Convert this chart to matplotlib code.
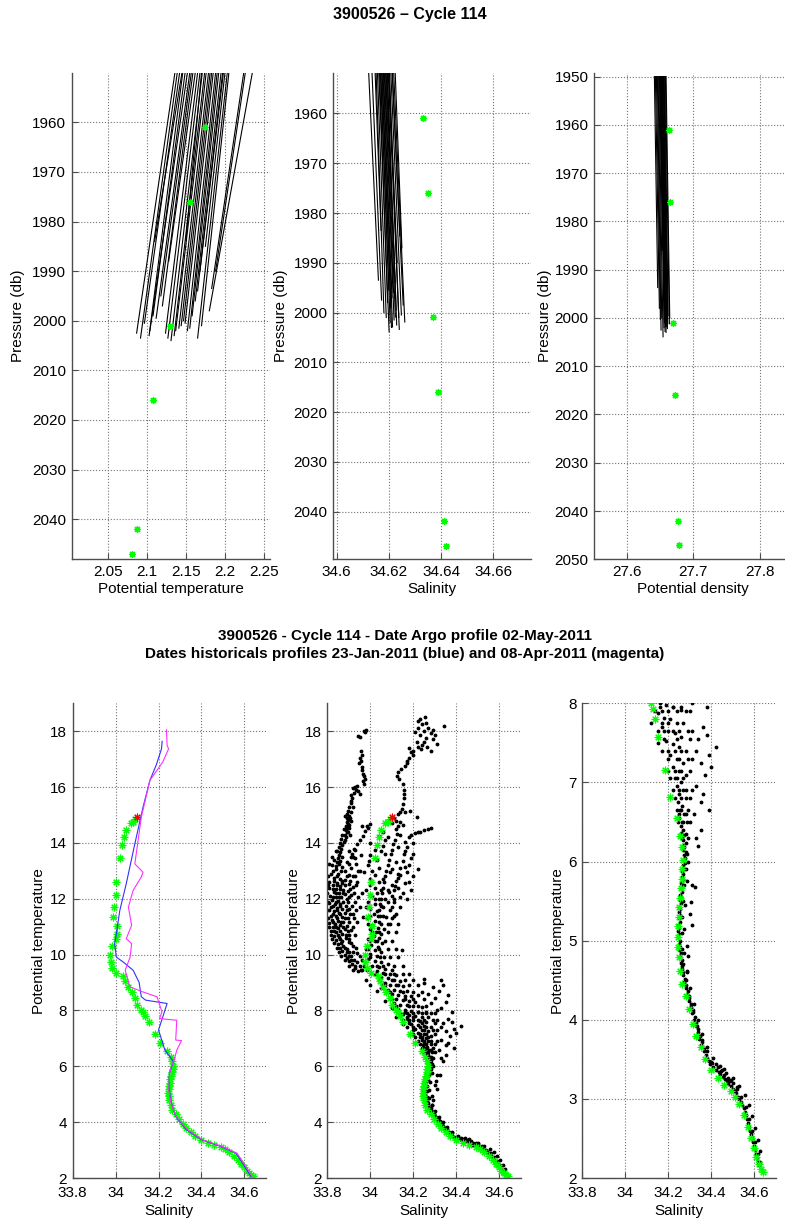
import numpy as np
import matplotlib
matplotlib.use('Agg')
import matplotlib.pyplot as plt
from matplotlib.ticker import FormatStrFormatter

plt.rcParams['font.family'] = ['Liberation Sans', 'DejaVu Sans']

# --- Argo profile, deep levels (top panels) --- #
argo_p     = [1961, 1976, 2001, 2016, 2042, 2047]
argo_theta = [2.175, 2.155, 2.13, 2.108, 2.088, 2.081]
argo_sal   = [34.633, 34.635, 34.637, 34.6387, 34.641, 34.642]
argo_sig   = [27.663, 27.6655, 27.669, 27.672, 27.6765, 27.678]

# --- historical profiles near the bottom: (value at 1950 db, value at end, end pressure) --- #
hist_p0 = 1950.0
hist_theta = [(2.136, 2.087, 2002.5), (2.139, 2.092, 2003.5), (2.142, 2.097, 2000.5),
              (2.146, 2.103, 2003.0), (2.149, 2.108, 1999.0), (2.152, 2.104, 2002.0),
              (2.155, 2.112, 1999.5), (2.157, 2.118, 1995.0), (2.159, 2.120, 1997.0),
              (2.162, 2.128, 1988.0), (2.165, 2.124, 2002.5), (2.168, 2.127, 2003.5),
              (2.171, 2.131, 2004.0), (2.174, 2.135, 2003.0), (2.176, 2.137, 2002.0),
              (2.179, 2.141, 2001.5), (2.181, 2.144, 2001.0), (2.183, 2.147, 2000.0),
              (2.185, 2.149, 2000.5), (2.188, 2.152, 2002.0), (2.190, 2.155, 2001.5),
              (2.192, 2.158, 1999.0), (2.195, 2.162, 1996.0), (2.197, 2.165, 1994.0),
              (2.198, 2.168, 1990.0), (2.200, 2.175, 1985.0), (2.203, 2.165, 2003.5),
              (2.205, 2.170, 2001.0), (2.224, 2.183, 1993.5), (2.226, 2.188, 1990.0),
              (2.235, 2.180, 1998.0), (2.145, 2.110, 1984.0), (2.170, 2.150, 1983.8)]
hist_sal = [(34.6121, 34.6160, 1993.5), (34.6146, 34.6170, 1983.5), (34.6150, 34.6181, 2000.0),
            (34.6155, 34.6190, 2001.0), (34.6160, 34.6201, 2003.9), (34.6163, 34.6195, 1998.0),
            (34.6166, 34.6205, 2002.0), (34.6168, 34.6200, 1995.5), (34.6171, 34.6210, 2003.0),
            (34.6173, 34.6208, 1999.0), (34.6176, 34.6214, 2002.9), (34.6178, 34.6212, 1997.0),
            (34.6181, 34.6220, 2001.5), (34.6183, 34.6218, 1996.0), (34.6186, 34.6225, 2000.9),
            (34.6188, 34.6224, 1994.0), (34.6191, 34.6230, 2002.5), (34.6193, 34.6228, 1999.5),
            (34.6196, 34.6240, 2003.4), (34.6198, 34.6232, 1990.0), (34.6201, 34.6238, 2001.0),
            (34.6212, 34.6242, 1984.6), (34.6206, 34.6248, 2000.5), (34.6211, 34.6255, 1998.5),
            (34.6217, 34.6261, 2001.9), (34.6223, 34.6250, 1987.0), (34.6134, 34.6172, 1997.5)]
hist_sig = [(27.6415, 27.6465, 1993.7), (27.6430, 27.6490, 1998.0), (27.6445, 27.6505, 2000.3),
            (27.6460, 27.6515, 2002.5), (27.6470, 27.6525, 2000.0), (27.6480, 27.6545, 2003.9),
            (27.6490, 27.6540, 1986.0), (27.6500, 27.6560, 2002.0), (27.6510, 27.6565, 2001.0),
            (27.6515, 27.6575, 2002.8), (27.6520, 27.6570, 1998.5), (27.6530, 27.6585, 2001.8),
            (27.6535, 27.6590, 2003.0), (27.6540, 27.6595, 2000.5), (27.6550, 27.6600, 2001.8),
            (27.6555, 27.6610, 2002.2), (27.6560, 27.6615, 2001.2), (27.6570, 27.6620, 1999.5),
            (27.6580, 27.6640, 2001.2), (27.6590, 27.6645, 2000.0), (27.6505, 27.6545, 1980.0),
            (27.6525, 27.6580, 1999.0)]

# --- Argo theta/S profile (bottom panels), first point drawn red --- #
argo_ts = [(34.10, 14.93), (34.09, 14.85), (34.082, 14.75), (34.07, 14.72), (34.048, 14.45),
           (34.039, 14.21), (34.031, 13.94), (34.02, 13.47), (34.004, 12.61), (34.0, 12.15),
           (33.993, 11.70), (33.988, 11.35), (34.007, 11.01), (34.009, 10.75), (34.004, 10.57),
           (33.985, 10.31), (33.976, 10.0), (33.977, 9.74), (33.985, 9.51), (34.004, 9.34),
           (34.035, 9.22), (34.045, 9.05), (34.06, 8.85), (34.075, 8.67), (34.09, 8.43),
           (34.10, 8.19), (34.12, 8.0), (34.128, 7.93), (34.139, 7.80), (34.154, 7.57),
           (34.185, 7.16), (34.209, 6.82), (34.24, 6.55), (34.256, 6.32), (34.262, 6.19),
           (34.268, 6.02), (34.266, 5.90), (34.262, 5.78), (34.258, 5.66), (34.255, 5.54),
           (34.252, 5.42), (34.249, 5.30), (34.247, 5.18), (34.246, 5.05), (34.247, 4.92),
           (34.25, 4.79), (34.256, 4.62), (34.265, 4.45), (34.28, 4.30), (34.295, 4.13),
           (34.315, 3.95), (34.33, 3.80), (34.35, 3.65), (34.37, 3.50), (34.40, 3.37),
           (34.43, 3.26), (34.46, 3.17), (34.49, 3.10), (34.51, 3.03), (34.53, 2.93),
           (34.55, 2.80), (34.57, 2.65), (34.585, 2.50), (34.60, 2.38), (34.61, 2.26),
           (34.62, 2.18), (34.63, 2.12), (34.64, 2.07)]

# --- two nearest historical profiles (blue 23-Jan, magenta 08-Apr) --- #
blue_s = [34.217, 34.214, 34.19, 34.16, 34.128, 34.09, 34.05, 34.02, 34.004, 33.996, 34.004,
          34.035, 34.082, 34.11, 34.12, 34.14, 34.24, 34.22, 34.2, 34.23, 34.27, 34.25, 34.25,
          34.26, 34.28, 34.33, 34.40, 34.49, 34.56, 34.59, 34.63]
blue_t = [17.64, 17.37, 16.8, 16.24, 15.28, 13.97, 12.54, 11.58, 10.75, 10.39, 9.91,
          9.74, 9.44, 9.0, 8.49, 8.37, 8.25, 7.77, 7.3, 6.58, 6.17, 5.75, 5.15,
          4.68, 4.2, 3.73, 3.37, 3.13, 2.89, 2.54, 2.06]
mag_s = [34.237, 34.24, 34.247, 34.22, 34.16, 34.12, 34.09, 34.128, 34.12, 34.082, 34.06,
         34.075, 34.05, 34.075, 34.068, 34.045, 34.067, 34.125, 34.193, 34.216, 34.205, 34.285,
         34.28, 34.307, 34.285, 34.273, 34.26, 34.252, 34.248, 34.258, 34.282, 34.335, 34.405,
         34.495, 34.565, 34.595, 34.635]
mag_t = [18.05, 17.49, 17.37, 16.9, 16.24, 14.92, 13.25, 12.95, 12.78, 12.3, 11.7,
         11.05, 10.57, 10.39, 9.91, 9.44, 8.85, 8.67, 8.49, 7.95, 7.71, 7.65,
         6.94, 6.92, 6.58, 6.23, 6.0, 5.75, 5.15, 4.68, 4.2, 3.73, 3.37,
         3.13, 2.89, 2.54, 2.06]

# --- historical theta/S cloud (reference database) --- #
cloud_upper = [
    (33.97, 18.02), (33.975, 17.98), (33.98, 18.05), (33.945, 17.82), (33.95, 17.78), (33.952, 17.05),
    (33.955, 16.95), (33.948, 16.85), (33.96, 16.72), (33.962, 16.6), (33.965, 16.48), (33.97, 16.38),
    (33.975, 16.3), (33.966, 16.22), (33.935, 15.9), (33.945, 15.85), (33.925, 15.78), (33.915, 15.6),
    (33.908, 15.5), (33.91, 15.42), (33.9, 15.3), (33.895, 15.15), (33.893, 15.05), (33.9, 14.98),
    (33.892, 14.9), (33.898, 14.82), (33.89, 14.75), (33.895, 14.68), (33.888, 14.6), (33.892, 14.52),
    (33.885, 14.45), (33.89, 14.38), (33.883, 14.3), (33.887, 14.22), (33.88, 14.12), (33.876, 14.02),
    (33.87, 13.92), (33.865, 13.8), (33.86, 13.68), (33.855, 13.58), (33.85, 13.45), (33.845, 13.3),
    (33.842, 13.18), (33.91, 15.7), (33.92, 15.95), (33.94, 16.05), (33.905, 14.9), (33.88, 14.95),
    (33.9, 14.65), (33.877, 14.5), (33.905, 14.3),
    (33.958, 17.3), (33.962, 17.15), (33.97, 16.1), (33.93, 16.0), (33.95, 15.75), (33.92, 15.3),
    (33.91, 15.1), (33.91, 14.8), (33.9, 14.55), (33.895, 14.4), (33.87, 14.3), (33.865, 14.15),
    (33.86, 14.0), (33.855, 13.85), (33.845, 13.7),
    (33.83, 13.4), (33.86, 13.35), (33.89, 13.3), (33.82, 13.2), (33.87, 13.15), (33.91, 13.1),
    (33.84, 13.05), (33.88, 12.98), (33.815, 12.9), (33.85, 12.88), (33.9, 12.85), (33.93, 12.8),
    (33.83, 12.75), (33.86, 12.72), (33.88, 12.68), (33.81, 12.6), (33.845, 12.58), (33.87, 12.55),
    (33.9, 12.52), (33.825, 12.48), (33.86, 12.45), (33.92, 12.42), (33.81, 12.38), (33.84, 12.35),
    (33.875, 12.32), (33.895, 12.28), (33.83, 12.25), (33.855, 12.2), (33.88, 12.18), (33.91, 12.15),
    (33.812, 12.1), (33.84, 12.08), (33.865, 12.05), (33.89, 12.0), (33.82, 11.95), (33.85, 11.92),
    (33.875, 11.9), (33.93, 11.88), (33.81, 11.85), (33.835, 11.82), (33.86, 11.8), (33.885, 11.75),
    (33.815, 11.7), (33.845, 11.68), (33.87, 11.65), (33.9, 11.62), (33.81, 11.58), (33.83, 11.55),
    (33.855, 11.5), (33.88, 11.48), (33.92, 11.45), (33.815, 11.4), (33.84, 11.38), (33.87, 11.35),
    (33.895, 11.3), (33.82, 11.25), (33.85, 11.22), (33.875, 11.18), (33.94, 11.15), (33.81, 11.12),
    (33.835, 11.1), (33.86, 11.05), (33.89, 11.02), (33.825, 10.98), (33.85, 10.95), (33.88, 10.9),
    (33.91, 10.88), (33.815, 10.85), (33.84, 10.8), (33.87, 10.75), (33.9, 10.72), (33.83, 10.68),
    (33.855, 10.62), (33.885, 10.58), (33.84, 10.52), (33.87, 10.48), (33.9, 10.45), (33.85, 10.38),
    (33.875, 10.32), (33.92, 10.3), (33.86, 10.25), (33.89, 10.2), (33.87, 10.12), (33.9, 10.08),
    (33.94, 10.05), (33.88, 10.0), (33.91, 9.95), (33.89, 9.88), (33.925, 9.82), (33.9, 9.78),
    (33.94, 9.72), (33.915, 9.65), (33.95, 9.58), (33.93, 9.52), (33.96, 9.46), (33.945, 9.4),
    (33.93, 13.45), (33.95, 13.0), (33.94, 12.6), (33.96, 12.2), (33.95, 11.7), (33.965, 11.35),
    (33.97, 12.95), (33.93, 13.75), (33.955, 13.55),
    (34.0, 14.68), (33.99, 14.55), (33.975, 14.42), (33.965, 14.25), (33.95, 14.1), (33.94, 13.95),
    (33.925, 13.8), (33.915, 13.62), (33.908, 13.5), (33.96, 14.6), (33.985, 14.62), (33.998, 13.55),
    (33.995, 13.35), (33.99, 13.2), (34.0, 14.0),
    (34.0, 12.5), (34.02, 12.4), (33.98, 12.3), (34.03, 12.2), (34.01, 12.1), (34.04, 12.0),
    (33.99, 11.9), (34.02, 11.8), (34.05, 11.75), (34.0, 11.65), (34.03, 11.55), (34.015, 11.45),
    (34.045, 11.4), (33.985, 11.3), (34.02, 11.2), (34.04, 11.15), (34.01, 11.05), (34.035, 10.95),
    (34.0, 10.9), (34.025, 10.82), (34.05, 10.75), (34.015, 10.68), (34.04, 10.6), (33.99, 10.55),
    (34.02, 10.48), (34.055, 10.42), (34.005, 10.35), (34.035, 10.28), (33.98, 10.2), (34.02, 10.15),
    (34.05, 10.1), (34.0, 10.02), (34.03, 9.95), (34.065, 9.9), (33.99, 9.85), (34.02, 9.78),
    (34.05, 9.72), (34.08, 9.68), (34.01, 9.6), (34.04, 9.55), (34.07, 9.5), (34.1, 9.45),
    (34.03, 9.4), (34.06, 9.35), (34.09, 9.3), (34.12, 9.26), (34.05, 9.2), (34.08, 9.15),
    (34.11, 9.1), (34.14, 9.05), (34.07, 9.0),
    (34.255, 18.52), (34.341, 18.2), (34.22, 18.35), (34.24, 18.25), (34.27, 18.1), (34.25, 18.0),
    (34.28, 17.95), (34.21, 17.98), (34.23, 17.85), (34.26, 17.75), (34.29, 17.72), (34.215, 17.6),
    (34.24, 17.5), (34.265, 17.45), (34.235, 17.38), (34.2, 17.3), (34.31, 17.55),
    (34.23, 18.45), (34.26, 18.3), (34.29, 18.05), (34.22, 18.1), (34.3, 17.85), (34.25, 17.6),
    (34.22, 17.45), (34.28, 17.3), (34.18, 17.4), (34.2, 17.15), (34.17, 16.95),
    (34.19, 17.25), (34.18, 17.05), (34.17, 16.85), (34.16, 16.75), (34.145, 16.65), (34.13, 16.55),
    (34.125, 16.4), (34.135, 16.3), (34.15, 16.1), (34.155, 15.9), (34.158, 15.75), (34.155, 15.6),
    (34.15, 15.4), (34.147, 15.22), (34.14, 15.12), (34.13, 15.05), (34.16, 15.1), (34.185, 15.16),
    (34.216, 14.92),
    (34.09, 14.85), (34.11, 14.9), (34.12, 14.8), (34.1, 14.7), (34.14, 14.75), (34.13, 14.6),
    (34.15, 14.65),
    (34.123, 14.33), (34.115, 14.1), (34.105, 13.95), (34.1, 13.75), (34.095, 13.6), (34.085, 13.4),
    (34.08, 13.2), (34.075, 13.0), (34.07, 12.8), (34.065, 12.6), (34.06, 12.4), (34.055, 12.2),
    (34.05, 12.0), (34.045, 11.8), (34.04, 11.6), (34.035, 11.4),
    (34.19, 14.3), (34.21, 14.35), (34.23, 14.4), (34.25, 14.45), (34.27, 14.5), (34.28, 14.55),
    (34.2, 14.0), (34.2, 13.6), (34.22, 14.39),
    (34.16, 14.05), (34.17, 13.85), (34.155, 13.6), (34.15, 13.35), (34.14, 13.1), (34.13, 12.9),
    (34.12, 12.65), (34.115, 12.45), (34.11, 12.3), (34.13, 12.75), (34.17, 12.95), (34.18, 13.2),
    (34.09, 12.95), (34.1, 12.5), (34.085, 12.25), (34.1, 12.1), (34.08, 11.9), (34.09, 11.6),
    (34.075, 11.35), (34.08, 11.1), (34.065, 10.9), (34.1, 11.3), (34.06, 12.7), (34.04, 13.1),
    (34.03, 13.4), (34.05, 13.7), (34.07, 14.1), (34.02, 12.85), (34.06, 14.4), (34.08, 14.2),
    (34.2, 12.8), (34.16, 12.55), (34.19, 12.3), (34.22, 13.05), (34.17, 12.0), (34.14, 11.7),
    (34.12, 11.45), (34.147, 10.15), (34.248, 9.14),
    (34.12, 14.5), (34.14, 14.3), (34.18, 14.2), (34.13, 13.85), (34.16, 13.7), (34.12, 13.3),
    (34.16, 13.15), (34.19, 13.45), (34.1, 13.05), (34.14, 12.85), (34.18, 12.6), (34.13, 12.4),
    (34.15, 12.2), (34.11, 11.9), (34.14, 12.05), (34.07, 13.6), (34.06, 13.9), (34.04, 14.25),
    (34.02, 13.75), (34.01, 13.0), (34.0, 12.7), (34.04, 12.6)]

# denser parts of the cloud, one row per temperature level: (theta, [salinities])
cloud_rows = [
    (13.7, [33.84, 33.9]), (13.5, [33.82, 33.87, 33.92]), (13.25, [33.81, 33.855, 33.9, 33.935]),
    (13.0, [33.825, 33.865, 33.945]), (12.8, [33.805, 33.845, 33.89, 33.92]),
    (12.65, [33.83, 33.87, 33.905]), (12.5, [33.805, 33.845, 33.88, 33.935]),
    (12.35, [33.825, 33.86, 33.905]), (12.2, [33.8, 33.84, 33.875, 33.925]),
    (12.05, [33.825, 33.855, 33.9, 33.945]), (11.9, [33.805, 33.84, 33.895]),
    (11.75, [33.825, 33.86, 33.915]), (11.6, [33.8, 33.845, 33.89, 33.935]),
    (11.45, [33.825, 33.86, 33.905]), (11.3, [33.805, 33.845, 33.88, 33.925]),
    (11.15, [33.825, 33.865, 33.9]), (11.0, [33.81, 33.84, 33.875, 33.92]),
    (10.85, [33.83, 33.86, 33.895]), (10.7, [33.815, 33.85, 33.885, 33.93]),
    (10.55, [33.82, 33.86, 33.9]), (10.4, [33.83, 33.865, 33.91]),
    (10.25, [33.845, 33.88, 33.935]), (10.1, [33.855, 33.89, 33.92]),
    (9.95, [33.865, 33.9, 33.95]), (9.8, [33.88, 33.91, 33.96]), (9.6, [33.9, 33.93, 33.97]),
    (9.45, [33.92, 33.955, 33.985]),
    (12.3, [34.05, 34.08]), (12.0, [34.02, 34.07, 34.11]), (11.7, [33.98, 34.06, 34.1]),
    (11.4, [34.0, 34.06, 34.11]), (11.1, [33.99, 34.05, 34.09, 34.13]),
    (10.8, [34.01, 34.04, 34.08, 34.12]), (10.5, [34.0, 34.03, 34.07, 34.1]),
    (10.2, [33.99, 34.04, 34.08, 34.12]), (9.9, [34.0, 34.045, 34.09, 34.13]),
    (9.6, [34.03, 34.06, 34.11, 34.15]), (9.3, [34.02, 34.07, 34.11, 34.15, 34.18]),
    (9.1, [34.04, 34.1, 34.16, 34.2]),
    (8.9, [34.07, 34.13, 34.18, 34.22]), (8.65, [34.09, 34.15, 34.2, 34.24]),
    (8.4, [34.1, 34.16, 34.2, 34.25]), (8.15, [34.12, 34.18, 34.22, 34.26]),
    (7.9, [34.14, 34.17, 34.2, 34.24, 34.28]), (7.65, [34.15, 34.18, 34.22, 34.25, 34.31]),
    (7.4, [34.17, 34.2, 34.23, 34.26, 34.33]), (7.15, [34.2, 34.23, 34.26, 34.3]),
    (6.9, [34.22, 34.25, 34.28, 34.31]), (6.65, [34.24, 34.26, 34.29]),
    (6.5, [34.245, 34.265, 34.285]),
    (7.95, [34.16, 34.22, 34.26]), (7.75, [34.17, 34.2, 34.27]), (7.55, [34.18, 34.24, 34.3]),
    (7.3, [34.2, 34.25, 34.29]), (7.05, [34.21, 34.24, 34.27]), (6.8, [34.23, 34.26, 34.3]),
    (6.6, [34.25, 34.28])]

cloud_mid = [
    (34.06, 8.95), (34.09, 8.9), (34.12, 8.92), (34.15, 8.88), (34.05, 8.8), (34.08, 8.75),
    (34.11, 8.72), (34.14, 8.7), (34.17, 8.68), (34.1, 8.6), (34.13, 8.55), (34.16, 8.52),
    (34.19, 8.5), (34.22, 8.55), (34.09, 8.45), (34.12, 8.4), (34.15, 8.38), (34.18, 8.35),
    (34.21, 8.3), (34.11, 8.25), (34.14, 8.2), (34.17, 8.18), (34.2, 8.15), (34.24, 8.12),
    (34.13, 8.05), (34.16, 8.0), (34.19, 7.98), (34.22, 7.95), (34.26, 7.92), (34.15, 7.88),
    (34.18, 7.82), (34.21, 7.8), (34.24, 7.75), (34.17, 7.7), (34.2, 7.65), (34.23, 7.62),
    (34.26, 7.58), (34.19, 7.52), (34.22, 7.48), (34.25, 7.45), (34.28, 7.4), (34.21, 7.35),
    (34.24, 7.3), (34.27, 7.25), (34.22, 7.2), (34.25, 7.15), (34.28, 7.1), (34.23, 7.05),
    (34.26, 7.0), (34.24, 6.95), (34.27, 6.9), (34.25, 6.85), (34.28, 6.8), (34.245, 6.75),
    (34.265, 6.7), (34.255, 6.65), (34.275, 6.6), (34.25, 6.55), (34.27, 6.5), (34.26, 6.45),
    (34.25, 9.0), (34.29, 8.85), (34.32, 8.7), (34.3, 8.45), (34.35, 8.3), (34.33, 8.1),
    (34.38, 7.95), (34.36, 7.7), (34.3, 7.9), (34.34, 7.55), (34.39, 7.35), (34.31, 7.3),
    (34.37, 7.1), (34.33, 6.95), (34.35, 6.75), (34.32, 6.6), (34.3, 6.5), (34.28, 8.25),
    (34.33, 9.1), (34.27, 8.6), (34.29, 7.65),
    (34.36, 8.55), (34.31, 8.0), (34.4, 7.2), (34.35, 7.25), (34.38, 7.6), (34.42, 7.45),
    (34.36, 6.85), (34.39, 6.65), (34.34, 8.9),
    (33.98, 9.1), (34.0, 8.9), (34.03, 8.7), (34.07, 8.35), (34.1, 8.1), (34.12, 7.75),
    (34.15, 7.5)]

cloud_deep = [
    (34.27, 6.40), (34.26, 6.36), (34.275, 6.33), (34.265, 6.30), (34.27, 6.27), (34.28, 6.24),
    (34.268, 6.21), (34.275, 6.18), (34.27, 6.15), (34.28, 6.12), (34.272, 6.08), (34.278, 6.05),
    (34.27, 6.02), (34.276, 5.98), (34.268, 5.95), (34.274, 5.91), (34.265, 5.88), (34.27, 5.84),
    (34.262, 5.80), (34.268, 5.77), (34.26, 5.73), (34.265, 5.70), (34.258, 5.66), (34.262, 5.62),
    (34.255, 5.58), (34.26, 5.55), (34.253, 5.51), (34.258, 5.47), (34.25, 5.43), (34.256, 5.40),
    (34.249, 5.36), (34.254, 5.32), (34.248, 5.28), (34.253, 5.24), (34.247, 5.20), (34.252, 5.16),
    (34.246, 5.12), (34.252, 5.08), (34.247, 5.04), (34.253, 5.00), (34.248, 4.96), (34.255, 4.92),
    (34.25, 4.88), (34.258, 4.84), (34.253, 4.80), (34.262, 4.76), (34.257, 4.72), (34.266, 4.68),
    (34.262, 4.64), (34.27, 4.60), (34.267, 4.56), (34.276, 4.52), (34.273, 4.48), (34.283, 4.44),
    (34.28, 4.40), (34.29, 4.36), (34.288, 4.32), (34.298, 4.28), (34.296, 4.24), (34.306, 4.20),
    (34.305, 4.16), (34.314, 4.12), (34.312, 4.08), (34.322, 4.04), (34.32, 4.00), (34.33, 3.96),
    (34.328, 3.92), (34.338, 3.88), (34.337, 3.84), (34.346, 3.80), (34.345, 3.76), (34.355, 3.72),
    (34.354, 3.68), (34.364, 3.64), (34.365, 3.60), (34.375, 3.56), (34.378, 3.52), (34.39, 3.48),
    (34.395, 3.44), (34.41, 3.40), (34.42, 3.37), (34.435, 3.34), (34.44, 3.31), (34.455, 3.28),
    (34.465, 3.25), (34.475, 3.22), (34.48, 3.19), (34.49, 3.16), (34.50, 3.13), (34.51, 3.10),
    (34.515, 3.07), (34.525, 3.03), (34.53, 3.00), (34.54, 2.96), (34.545, 2.92), (34.55, 2.88),
    (34.555, 2.84), (34.56, 2.80), (34.566, 2.75), (34.57, 2.70), (34.576, 2.65), (34.58, 2.60),
    (34.586, 2.55), (34.59, 2.50), (34.596, 2.45), (34.60, 2.40), (34.605, 2.35), (34.61, 2.30),
    (34.613, 2.25), (34.617, 2.20), (34.62, 2.16),
    (34.282, 6.35), (34.285, 6.1), (34.28, 5.9), (34.275, 5.7), (34.27, 5.5), (34.265, 5.3),
    (34.262, 5.1), (34.263, 4.9), (34.27, 4.7), (34.28, 4.5), (34.295, 4.3), (34.315, 4.1),
    (34.335, 3.92), (34.355, 3.75), (34.378, 3.6), (34.405, 3.45), (34.445, 3.35), (34.485, 3.22),
    (34.52, 3.12), (34.54, 3.02), (34.56, 2.9), (34.575, 2.75), (34.59, 2.6), (34.605, 2.45),
    (34.617, 2.3), (34.625, 2.2),
    (34.29, 6.3), (34.292, 6.0), (34.285, 5.75), (34.278, 5.45), (34.272, 5.15), (34.275, 4.85),
    (34.285, 4.6), (34.3, 4.4), (34.318, 4.2), (34.338, 4.0), (34.358, 3.82), (34.38, 3.66),
    (34.41, 3.52), (34.46, 3.38), (34.5, 3.27), (34.53, 3.16), (34.555, 3.05), (34.575, 2.92),
    (34.59, 2.78), (34.603, 2.63), (34.615, 2.48), (34.625, 2.34),
    (34.43, 3.4), (34.45, 3.36), (34.47, 3.33), (34.44, 3.42), (34.46, 3.3), (34.48, 3.26),
    (34.5, 3.2), (34.49, 3.24), (34.42, 3.44), (34.4, 3.47), (34.52, 3.15),
    (34.33, 6.3), (34.35, 6.4), (34.34, 6.2), (34.31, 5.7), (34.325, 5.68), (34.307, 5.49),
    (34.3, 5.34), (34.31, 5.2), (34.285, 4.93), (34.29, 4.8), (34.285, 4.62)]

title_top = '3900526 \u2013 Cycle 114'
title_mid = ['3900526 - Cycle 114 - Date Argo profile 02-May-2011',
             'Dates historicals profiles 23-Jan-2011 (blue) and 08-Apr-2011 (magenta)']

GREEN = (0, 1, 0)
STAR  = (8, 2, 0)

W, H = 785.0, 1222.0
fig = plt.figure(figsize=(W / 100, H / 100), dpi=100)


def add_axes(x0, y0, x1, y1):
    return fig.add_axes([x0 / W, 1 - y1 / H, (x1 - x0) / W, (y1 - y0) / H])


def style(ax, fmt='%g', xpad=4):
    for side in ('top', 'right'):
        ax.spines[side].set_visible(False)
    for side in ('left', 'bottom'):
        ax.spines[side].set_color('0.3')
        ax.spines[side].set_linewidth(1.0)
    ax.tick_params(direction='in', length=4, width=0.8, labelsize=11, pad=4,
                   top=False, right=False, color='0.3')
    ax.tick_params(axis='x', pad=xpad)
    ax.grid(True, linestyle=':', color='0.45', linewidth=0.8)
    ax.set_axisbelow(True)
    ax.xaxis.set_major_formatter(FormatStrFormatter(fmt))


# --- top row: deep levels vs pressure --- #
top_specs = [
    (71.7, hist_theta, argo_theta, (2.004, 2.2572), (2048.1, 1950.0),
     [2.05, 2.1, 2.15, 2.2, 2.25], range(1960, 2041, 10), 'Potential temperature', -0.236),
    (333.3, hist_sal, argo_sal, (34.5987, 34.6746), (2049.6, 1951.8),
     [34.6, 34.62, 34.64, 34.66], range(1960, 2041, 10), 'Salinity', -0.229),
    (594.3, hist_sig, argo_sig, (27.5514, 27.8483), (2050.0, 1949.2),
     [27.6, 27.7, 27.8], range(1950, 2051, 10), 'Potential density', -0.214),
]
for x0, hist, argo_x, xlim, ylim, xt, yt, xlab, ylx in top_specs:
    ax = add_axes(x0, 72.7, x0 + 198, 559.3)
    style(ax)
    for v0, v1, p1 in hist:
        ax.plot([v0, v1], [hist_p0, p1], color='k', lw=0.8)
    ax.plot(argo_x, argo_p, ls='none', marker=STAR, color=GREEN, ms=5, mew=0.9)
    ax.set_xlim(*xlim)
    ax.set_ylim(*ylim)
    ax.set_xticks(xt)
    ax.set_yticks(list(yt))
    ax.set_xlabel(xlab, fontsize=11)
    ax.xaxis.set_label_coords(0.5, -0.047)
    ax.set_ylabel('Pressure (db)', fontsize=11)
    ax.yaxis.set_label_coords(ylx, 0.5)

# --- bottom row: theta/S diagrams --- #
argo_arr = np.array(argo_ts)
row_pts = [(s, t) for t, ss in cloud_rows for s in ss]
cloud = np.array(cloud_upper + row_pts + cloud_mid + cloud_deep)

bottom_specs = [(72.5, (2, 19), range(2, 19, 2), -0.137),
                (327.3, (2, 19), range(2, 19, 2), -0.136),
                (582.3, (2, 8), range(2, 9), -0.09)]
for k, (x0, ylim, yt, ylx) in enumerate(bottom_specs):
    ax = add_axes(x0, 703.3, x0 + 193.5, 1178.0)
    style(ax, xpad=5.5)
    if k == 0:
        ax.plot(argo_arr[1:, 0], argo_arr[1:, 1], ls='none', marker=STAR, color=GREEN, ms=5.5, mew=0.8)
        ax.plot(argo_arr[:1, 0], argo_arr[:1, 1], ls='none', marker=STAR, color='r', ms=5.5, mew=0.8)
        ax.plot(blue_s, blue_t, color='#3030ff', lw=0.8)
        ax.plot(mag_s, mag_t, color='#ff30ff', lw=0.8)
    else:
        ax.plot(cloud[:, 0], cloud[:, 1], ls='none', marker='.', color='k', ms=3.5)
        ax.plot(argo_arr[1:, 0], argo_arr[1:, 1], ls='none', marker=STAR, color=GREEN, ms=5.5, mew=0.8)
        ax.plot(argo_arr[:1, 0], argo_arr[:1, 1], ls='none', marker=STAR, color='r', ms=5.5, mew=0.8)
    ax.set_xlim(33.8, 34.7)
    ax.set_ylim(*ylim)
    ax.set_xticks([33.8, 34.0, 34.2, 34.4, 34.6])
    ax.set_yticks(list(yt))
    ax.yaxis.set_major_formatter(FormatStrFormatter('%g'))
    ax.set_xlabel('Salinity', fontsize=11)
    ax.xaxis.set_label_coords(0.5, -0.054)
    ax.set_ylabel('Potential temperature', fontsize=11)
    ax.yaxis.set_label_coords(ylx, 0.5)

fig.text(410 / W, 1 - 15 / H, title_top, ha='center', va='center', fontsize=11.5, weight='bold')
fig.text(405 / W, 1 - 636 / H, title_mid[0], ha='center', va='center', fontsize=11, weight='bold')
fig.text(405 / W, 1 - 654 / H, title_mid[1], ha='center', va='center', fontsize=11, weight='bold')

fig.savefig('out.png', dpi=100)
